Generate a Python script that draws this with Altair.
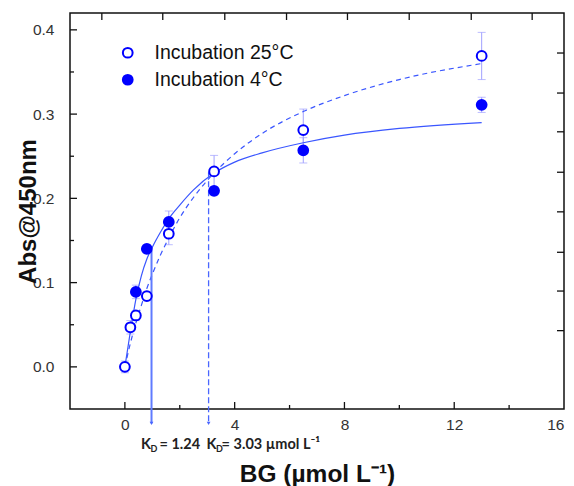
import altair as alt
import pandas as pd

# ---------------- data ----------------
series_names = ["Incubation 25°C", "Incubation 4°C"]

conc_25 = [0, 0.2, 0.4, 0.8, 1.6, 3.25, 6.5, 13]
abs_25 = [0.000, 0.047, 0.061, 0.084, 0.158, 0.232, 0.281, 0.369]
err_25 = [0.007, 0.008, 0.006, 0.005, 0.013, 0.019, 0.025, 0.028]

conc_4 = [0.4, 0.8, 1.6, 3.25, 6.5, 13]
abs_4 = [0.089, 0.140, 0.172, 0.209, 0.257, 0.311]
err_4 = [0.008, 0.005, 0.013, 0.005, 0.015, 0.009]

# fitted curves
fit_x = [0, 0.2, 0.4, 0.6, 0.8, 1.0, 1.3, 1.6, 2.0, 2.5, 3.25, 4, 5, 6.5, 8, 10, 13]
fit_4 = [0.0, 0.042, 0.080, 0.108, 0.128, 0.142, 0.160, 0.176, 0.192, 0.210,
         0.230, 0.243, 0.254, 0.266, 0.275, 0.283, 0.290]
fit_25 = [0.0, 0.028, 0.052, 0.073, 0.093, 0.110, 0.133, 0.153, 0.177, 0.201,
          0.230, 0.253, 0.277, 0.303, 0.322, 0.341, 0.360]

# K_D markers
kd_x = [0.97, 3.05]
kd_top = [0.138, 0.231]
kd_bottom = [-0.067, -0.067]
kd_values = ["= 1.24", "= 3.03 µmol L⁻¹"]
kd_label_y = -0.097

# axis ticks
x_major = [0, 4, 8, 12]
x_minor = [2, 6, 10, 14]
y_major = [0.0, 0.1, 0.2, 0.3, 0.4]
y_minor = [0.05, 0.15, 0.25, 0.35]
top_ticks = [-0.84, 1.38, 3.64, 5.89, 8.11, 10.36, 12.62, 14.84]
right_ticks = [0.3725, 0.325, 0.279, 0.231, 0.184, 0.136, 0.090, 0.043]

# ---------------- tables ----------------
pts = pd.DataFrame({
    "c": conc_25 + conc_4,
    "a": abs_25 + abs_4,
    "e": err_25 + err_4,
    "series": [series_names[0]] * len(conc_25) + [series_names[1]] * len(conc_4),
})
pts["lo"] = pts["a"] - pts["e"]
pts["hi"] = pts["a"] + pts["e"]

fit4_df = pd.DataFrame({"c": fit_x, "a": fit_4})
fit25_df = pd.DataFrame({"c": fit_x, "a": fit_25})
kd_df = pd.DataFrame({"c": kd_x, "top": kd_top, "bot": kd_bottom, "lab": kd_values})

W, H = 494, 396
FONT = "Liberation Sans, Arial, sans-serif"
BLUE = "#0000ff"
LINE = "#3a56ff"
ERR = "#a0a0ff"

xs = alt.Scale(domain=[-2, 16], nice=False, zero=False)
ys = alt.Scale(domain=[-0.05, 0.42], nice=False, zero=False)

x_axis = alt.Axis(values=[0, 4, 8, 12, 16], format="d", ticks=False, tickSize=0,
                  domain=False, grid=False, labelFont=FONT, labelFontSize=15.5,
                  labelColor="#333333", labelPadding=8,
                  title="BG (µmol L⁻¹)", titleFont=FONT, titleFontSize=24.5,
                  titleFontWeight="bold", titleColor="#111111",
                  titleX=W / 2, titleY=72, titleBaseline="alphabetic", titleAlign="center")
y_axis = alt.Axis(values=y_major, format=".1f", ticks=False, tickSize=0,
                  domain=False, grid=False, labelFont=FONT, labelFontSize=15.5,
                  labelColor="#333333", labelPadding=16,
                  title="Abs@450nm", titleFont=FONT, titleFontSize=24,
                  titleFontWeight="bold", titleColor="#111111",
                  titleX=-35, titleY=H / 2, titleAngle=270,
                  titleBaseline="alphabetic", titleAlign="center")


def X(f):
    return alt.X(f, type="quantitative", scale=xs, axis=x_axis)


def Y(f):
    return alt.Y(f, type="quantitative", scale=ys, axis=y_axis)


base = alt.Chart(pts)

err_rule = base.mark_rule(color=ERR, strokeWidth=1).encode(x=X("c"), y=Y("lo"), y2="hi")
cap_lo = base.mark_tick(orient="horizontal", size=8, thickness=1, color=ERR).encode(x=X("c"), y=Y("lo"))
cap_hi = base.mark_tick(orient="horizontal", size=8, thickness=1, color=ERR).encode(x=X("c"), y=Y("hi"))

line4 = alt.Chart(fit4_df).mark_line(color=LINE, strokeWidth=1.2, interpolate="monotone").encode(
    x=X("c"), y=Y("a"))
line25 = alt.Chart(fit25_df).mark_line(color=LINE, strokeWidth=1.2, strokeDash=[5, 4],
                                       interpolate="monotone").encode(x=X("c"), y=Y("a"))

kd_base = alt.Chart(kd_df)
kd_solid = kd_base.transform_filter(alt.datum.c < 2).mark_rule(
    color="#5f7bff", strokeWidth=2).encode(x=X("c"), y=Y("top"), y2="bot")
kd_dash = kd_base.transform_filter(alt.datum.c > 2).mark_rule(
    color="#4a66ff", strokeWidth=1.3, strokeDash=[6, 3]).encode(x=X("c"), y=Y("top"), y2="bot")
kd_arrow = kd_base.mark_point(shape="triangle-down", filled=True, size=14, color="#4a66ff",
                              opacity=1).encode(x=X("c"), y=Y("bot"))

txt_style = dict(font="Lato, Open Sans, sans-serif", fontWeight="bold", color="#222222",
                 align="left", baseline="alphabetic")


def kd_text(cond, size, dx, dy, text):
    return kd_base.transform_filter(cond).transform_calculate(ly=str(kd_label_y)).mark_text(
        fontSize=size, dx=dx, dy=dy, **txt_style).encode(
        x=X("c"), y=alt.Y("ly:Q", scale=ys, axis=y_axis), text=text)


kd_K1 = kd_text(alt.datum.c < 2, 14.5, -10.5, 0, alt.value("K"))
kd_D1 = kd_text(alt.datum.c < 2, 9, -1, 3, alt.value("D"))
kd_V1 = kd_text(alt.datum.c < 2, 14.5, 8, 0, "lab:N")
kd_K2 = kd_text(alt.datum.c > 2, 14.5, -2, 0, alt.value("K"))
kd_D2 = kd_text(alt.datum.c > 2, 9, 7.5, 3, alt.value("D"))
kd_V2 = kd_text(alt.datum.c > 2, 14.5, 13, 0, "lab:N")

points = base.mark_point(shape="circle", filled=True, size=95, stroke=BLUE, strokeWidth=2,
                         opacity=1).encode(
    x=X("c"), y=Y("a"),
    fill=alt.Fill("series:N", scale=alt.Scale(domain=series_names, range=["white", BLUE]),
                  legend=alt.Legend(orient="none", legendX=48, legendY=30, title=None,
                                    labelFont=FONT, labelFontSize=19.5, labelColor="#111111",
                                    symbolType="circle", symbolSize=95, symbolStrokeWidth=2,
                                    symbolStrokeColor=BLUE, symbolOpacity=1, labelOffset=17,
                                    rowPadding=6, padding=0)))

# inward ticks on all four sides
TK = "#111111"
bx_major = alt.Chart(pd.DataFrame({"t": x_major})).mark_rule(color=TK, strokeWidth=1.3).encode(
    x=X("t"), y=alt.value(H), y2=alt.value(H - 7))
bx_minor = alt.Chart(pd.DataFrame({"t": x_minor})).mark_rule(color=TK, strokeWidth=1.3).encode(
    x=X("t"), y=alt.value(H), y2=alt.value(H - 4))
tx = alt.Chart(pd.DataFrame({"t": top_ticks})).mark_rule(color=TK, strokeWidth=1.3).encode(
    x=X("t"), y=alt.value(0), y2=alt.value(7))
ly_major = alt.Chart(pd.DataFrame({"t": y_major})).mark_rule(color=TK, strokeWidth=1.3).encode(
    y=Y("t"), x=alt.value(0), x2=alt.value(7))
ly_minor = alt.Chart(pd.DataFrame({"t": y_minor})).mark_rule(color=TK, strokeWidth=1.3).encode(
    y=Y("t"), x=alt.value(0), x2=alt.value(4))
ry = alt.Chart(pd.DataFrame({"t": right_ticks})).mark_rule(color=TK, strokeWidth=1.3).encode(
    y=Y("t"), x=alt.value(W), x2=alt.value(W - 7))

chart = alt.layer(
    bx_major, bx_minor, tx, ly_major, ly_minor, ry,
    err_rule, cap_lo, cap_hi,
    line4, line25, kd_solid, kd_dash, kd_arrow,
    kd_K1, kd_K2, kd_D1, kd_D2, kd_V1, kd_V2,
    points,
).properties(
    width=W, height=H,
    autosize=alt.AutoSizeParams(type="none"),
    padding={"left": 62, "top": 5, "right": 2, "bottom": 77},
    background="white",
).configure_view(stroke="#111111", strokeWidth=1.5)

chart.save("out.html", embed_options={"renderer": "svg", "actions": False})
